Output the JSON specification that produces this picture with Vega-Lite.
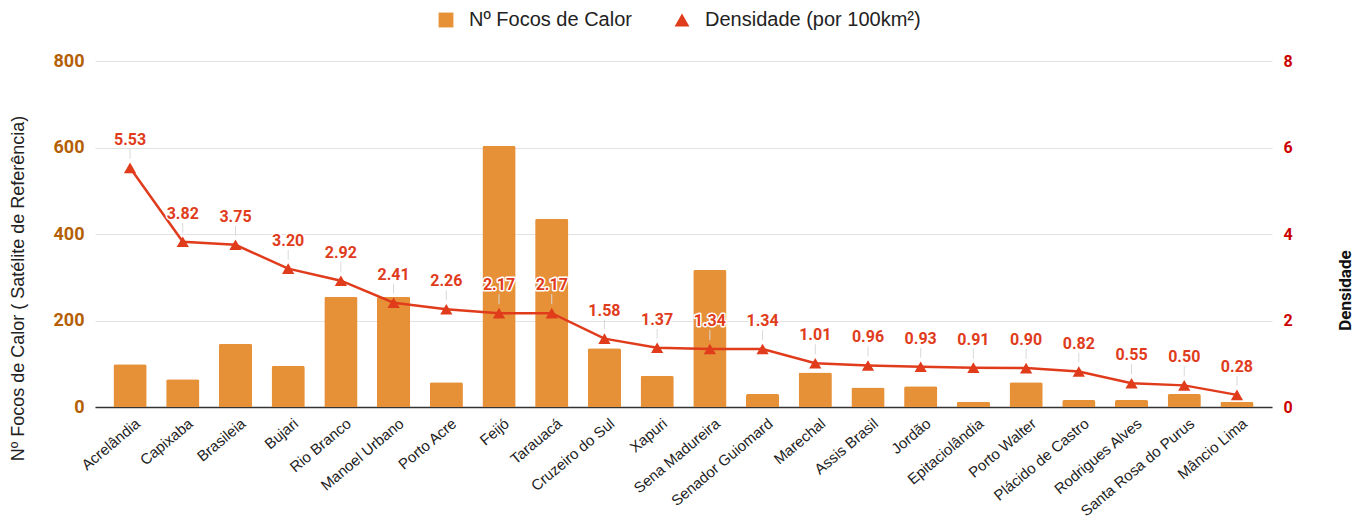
{
  "$schema": "https://vega.github.io/schema/vega-lite/v6.json",
  "width": 1177,
  "height": 346,
  "autosize": {"type": "none"},
  "padding": {"left": 95, "top": 61, "right": 93, "bottom": 115},
  "background": "white",
  "config": {"view": {"stroke": null}, "font": "Liberation Sans"},
  "data": {"values": [
    {"m": "Acrelândia", "focos": 99, "dens": 5.53},
    {"m": "Capixaba", "focos": 64, "dens": 3.82},
    {"m": "Brasileia", "focos": 146, "dens": 3.75},
    {"m": "Bujari", "focos": 95, "dens": 3.20},
    {"m": "Rio Branco", "focos": 255, "dens": 2.92},
    {"m": "Manoel Urbano", "focos": 255, "dens": 2.41},
    {"m": "Porto Acre", "focos": 57, "dens": 2.26},
    {"m": "Feijó", "focos": 604, "dens": 2.17},
    {"m": "Tarauacá", "focos": 435, "dens": 2.17},
    {"m": "Cruzeiro do Sul", "focos": 136, "dens": 1.58},
    {"m": "Xapuri", "focos": 72, "dens": 1.37},
    {"m": "Sena Madureira", "focos": 317, "dens": 1.34},
    {"m": "Senador Guiomard", "focos": 30, "dens": 1.34},
    {"m": "Marechal", "focos": 80, "dens": 1.01},
    {"m": "Assis Brasil", "focos": 45, "dens": 0.96},
    {"m": "Jordão", "focos": 48, "dens": 0.93},
    {"m": "Epitaciolândia", "focos": 12, "dens": 0.91},
    {"m": "Porto Walter", "focos": 57, "dens": 0.90},
    {"m": "Plácido de Castro", "focos": 16, "dens": 0.82},
    {"m": "Rodrigues Alves", "focos": 16, "dens": 0.55},
    {"m": "Santa Rosa do Purus", "focos": 30, "dens": 0.50},
    {"m": "Mâncio Lima", "focos": 12, "dens": 0.28}
  ]},
  "encoding": {
    "x": {"field": "m", "type": "nominal", "sort": null,
      "scale": {"paddingInner": 0.37, "paddingOuter": 0.35},
      "axis": {"title": null, "labelAngle": -40, "labelFontSize": 15, "labelColor": "#222222",
        "labelFont": "Liberation Sans", "ticks": false, "labelPadding": 14, "labelOffset": 8,
        "domainColor": "#333333", "domainWidth": 1.5, "labelAlign": "right", "labelBaseline": "middle", "labelLimit": 300}}
  },
  "layer": [
    {
      "mark": {"type": "bar", "color": "#e69138", "cornerRadiusTopLeft": 2, "cornerRadiusTopRight": 2},
      "encoding": {
        "y": {"field": "focos", "type": "quantitative", "scale": {"domain": [0, 800]},
          "axis": {"title": "Nº Focos de Calor ( Satélite de Referência)", "titleFont": "Liberation Sans",
            "titleFontSize": 18, "titleFontWeight": "normal", "titleColor": "#222222",
            "titleX": -77, "titleY": 227, "titleBaseline": "middle", "titleAlign": "center", "titleAngle": -90,
            "values": [0, 200, 400, 600, 800], "labelFont": "Roboto", "labelFontWeight": "bold",
            "labelFontSize": 18, "labelColor": "#b45f06", "ticks": false, "domain": false,
            "labelPadding": 11, "gridColor": "#e2e2e2", "gridWidth": 1}},
        "color": {"datum": "Nº Focos de Calor",
          "scale": {"domain": ["Nº Focos de Calor", "Densidade (por 100km²)"], "range": ["#e69138", "#e03c1c"]},
          "legend": {"title": null, "orient": "none", "direction": "horizontal", "legendX": 341, "legendY": -51,
            "labelFontSize": 20, "labelFont": "Liberation Sans", "labelColor": "#222222", "labelLimit": 400,
            "symbolSize": 220, "symbolStrokeWidth": 0, "columnPadding": 40, "labelOffset": 13}}
      }
    },
    {
      "layer": [
        {"mark": {"type": "line", "color": "#e03c1c", "strokeWidth": 2.5},
          "encoding": {"y": {"field": "dens", "type": "quantitative", "scale": {"domain": [0, 8]},
            "axis": {"title": "Densidade", "orient": "right", "titleFont": "Roboto", "titleFontWeight": "bold",
              "titleFontSize": 17, "titleColor": "#111111", "titleX": 73, "titleY": 229, "titleAngle": -90,
              "titleBaseline": "middle", "titleAlign": "center", "values": [0, 2, 4, 6, 8],
              "labelFont": "Roboto", "labelFontWeight": "bold", "labelFontSize": 16, "labelColor": "#cc0000",
              "ticks": false, "domain": false, "grid": false, "labelPadding": 11}}}},
        {"mark": {"type": "point", "filled": true, "opacity": 1, "size": 150},
          "encoding": {"y": {"field": "dens", "type": "quantitative"},
            "color": {"datum": "Densidade (por 100km²)"},
            "shape": {"datum": "Densidade (por 100km²)",
              "scale": {"domain": ["Nº Focos de Calor", "Densidade (por 100km²)"], "range": ["square", "triangle-up"]},
              "legend": {"title": null, "orient": "none", "direction": "horizontal", "legendX": 341, "legendY": -51,
                "labelFontSize": 20, "labelFont": "Liberation Sans", "labelColor": "#222222", "labelLimit": 400,
                "symbolSize": 220, "symbolStrokeWidth": 0, "columnPadding": 40, "labelOffset": 13}}}},
        {"mark": {"type": "rule", "color": "#d9d9d9", "strokeWidth": 1, "yOffset": -9, "y2Offset": -19},
          "encoding": {"y": {"field": "dens", "type": "quantitative"}, "y2": {"field": "dens"}}},
        {"mark": {"type": "text", "dy": -28, "font": "Roboto", "fontWeight": "bold", "fontSize": 16,
            "stroke": "white", "strokeWidth": 3, "strokeJoin": "round", "color": "white"},
          "encoding": {"y": {"field": "dens", "type": "quantitative"},
            "text": {"field": "dens", "type": "quantitative", "format": ".2f"}}},
        {"mark": {"type": "text", "dy": -28, "font": "Roboto", "fontWeight": "bold", "fontSize": 16, "color": "#e03c1c"},
          "encoding": {"y": {"field": "dens", "type": "quantitative"},
            "text": {"field": "dens", "type": "quantitative", "format": ".2f"}}}
      ]
    }
  ],
  "resolve": {"scale": {"y": "independent"}}
}
